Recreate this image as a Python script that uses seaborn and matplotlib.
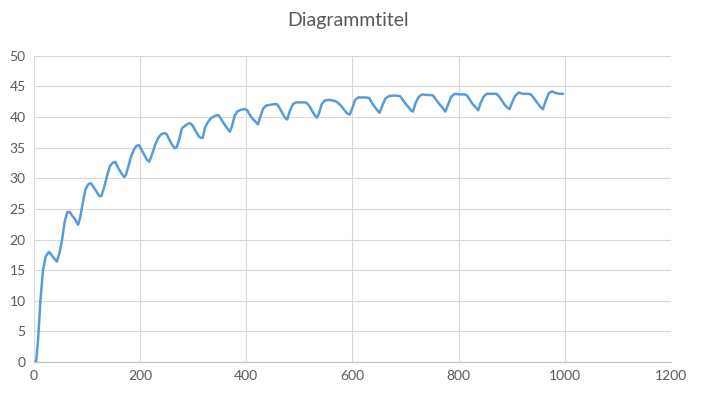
import pandas as pd
import seaborn as sns
import matplotlib.pyplot as plt

# values
x_vals = [0, 4, 8, 12, 17, 22, 28, 32, 38, 43, 48, 53, 58, 63, 67, 72, 78, 83, 87, 92,
          97, 102, 107, 112, 118, 123, 127, 132, 138, 143, 148, 153, 158, 164, 170, 173, 178, 183, 189, 193,
          198, 203, 208, 213, 217, 222, 228, 234, 240, 246, 250, 255, 260, 265, 269, 274, 279, 285, 290, 294,
          299, 304, 310, 314, 318, 322, 327, 333, 339, 344, 348, 353, 358, 364, 369, 373, 378, 383, 390, 397,
          402, 407, 412, 418, 422, 427, 432, 438, 445, 452, 458, 462, 467, 472, 477, 482, 488, 494, 502, 510,
          514, 519, 524, 529, 533, 537, 542, 548, 555, 563, 568, 573, 579, 585, 590, 595, 600, 605, 611, 618,
          626, 632, 636, 641, 646, 651, 656, 662, 668, 676, 684, 690, 695, 700, 706, 711, 714, 719, 725, 731,
          740, 748, 752, 757, 763, 769, 775, 780, 786, 793, 801, 810, 815, 820, 825, 831, 837, 841, 847, 853,
          862, 871, 876, 881, 886, 891, 896, 900, 906, 913, 921, 930, 936, 941, 946, 951, 956, 959, 964, 970,
          976, 984, 991, 997]
y_vals = [0, 0, 4, 10, 15, 17.2, 18.0, 17.6, 16.9, 16.4, 17.8, 20, 23, 24.5, 24.5, 23.9, 23.2, 22.4, 23.6, 26,
          28.2, 29, 29.2, 28.6, 27.8, 27.1, 27.1, 28.5, 30.5, 32, 32.5, 32.7, 31.8, 30.9, 30.2, 30.5, 32, 33.6, 34.8, 35.3,
          35.4, 34.6, 33.8, 33, 32.7, 33.8, 35.4, 36.6, 37.2, 37.4, 37.2, 36.3, 35.5, 34.9, 35.1, 36.5, 38.2, 38.6, 38.9, 39.0,
          38.6, 37.8, 36.9, 36.6, 36.6, 38.2, 39.1, 39.8, 40.1, 40.3, 40.3, 39.6, 38.9, 38.2, 37.6, 38.5, 40.2, 40.9, 41.2, 41.3,
          41.1, 40.3, 39.7, 39.2, 38.8, 40.2, 41.4, 41.9, 42.0, 42.1, 42.1, 41.6, 40.8, 40.0, 39.6, 41.0, 42.1, 42.4, 42.4, 42.4,
          42.3, 41.8, 41.0, 40.3, 39.9, 40.6, 42.1, 42.7, 42.8, 42.7, 42.6, 42.3, 41.8, 41.1, 40.6, 40.4, 41.5, 42.8, 43.2, 43.2,
          43.2, 43.1, 42.4, 41.8, 41.2, 40.7, 41.8, 43.0, 43.4, 43.5, 43.5, 43.4, 42.8, 42.2, 41.6, 41.0, 40.9, 42.3, 43.3, 43.7,
          43.6, 43.6, 43.5, 42.9, 42.2, 41.6, 40.9, 42.0, 43.3, 43.8, 43.7, 43.7, 43.6, 43.0, 42.3, 41.7, 41.1, 42.2, 43.3, 43.8,
          43.8, 43.8, 43.4, 42.8, 42.1, 41.6, 41.3, 42.2, 43.4, 44.0, 43.8, 43.8, 43.7, 43.2, 42.6, 42.0, 41.5, 41.3, 42.6, 43.9,
          44.2, 43.9, 43.8, 43.8]
x_ticks = [0, 200, 400, 600, 800, 1000, 1200]
y_ticks = [0, 5, 10, 15, 20, 25, 30, 35, 40, 45, 50]

sns.set_style("white")
plt.rcParams['font.family'] = ['Lato', 'DejaVu Sans']

df = pd.DataFrame({'x': x_vals, 'y': y_vals})

fig = plt.figure(figsize=(7.01, 3.96), dpi=100)
ax = fig.add_axes([0.0485, 0.0859, 0.9085, 0.7731])
sns.lineplot(data=df, x='x', y='y', sort=False, color='#5B9BD5', linewidth=1.8, ax=ax)

ax.set_xlim(0, 1200)
ax.set_ylim(0, 50)
ax.set_xticks(x_ticks)
ax.set_yticks(y_ticks)
ax.grid(True, color='#D9D9D9', linewidth=0.8)
ax.set_axisbelow(True)
for side in ['top', 'right', 'left']:
    ax.spines[side].set_visible(False)
ax.spines['bottom'].set_color('#BFBFBF')
ax.tick_params(axis='both', length=0, labelsize=10, colors='#595959', pad=6)
ax.set(xlabel='', ylabel='')

fig.suptitle('Diagrammtitel', x=0.497, y=0.97, fontsize=14, color='#595959')
fig.savefig('out.png', dpi=100)
